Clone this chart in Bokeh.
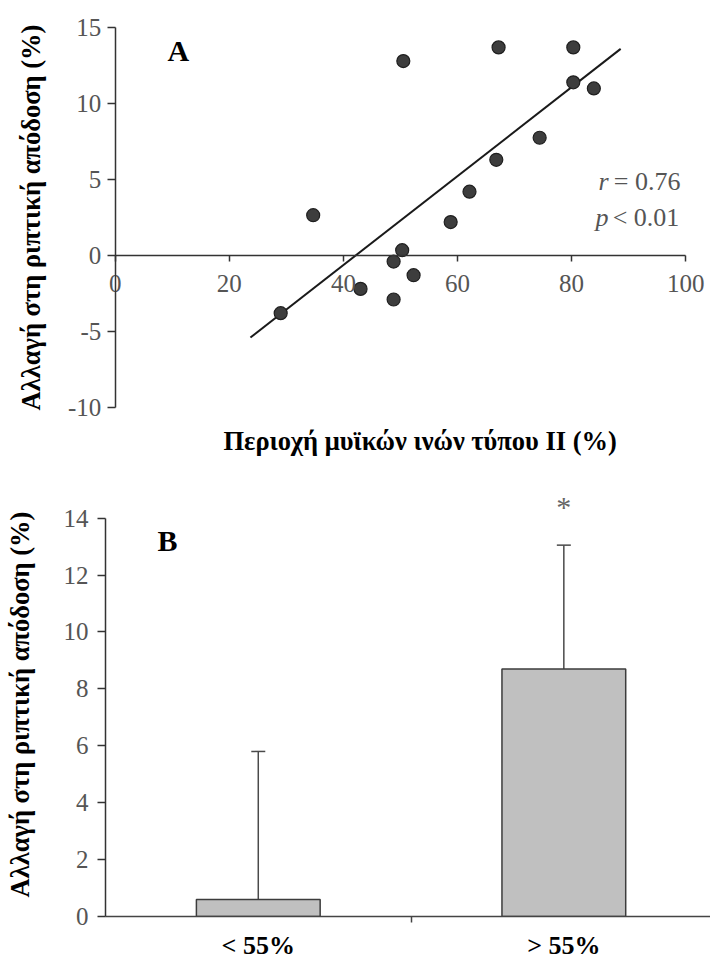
from bokeh.plotting import figure
from bokeh.layouts import column
from bokeh.models import (Range1d, LinearAxis, FixedTicker, Title, Whisker,
                          TeeHead, ColumnDataSource)
from bokeh.core.properties import value
from bokeh.embed import file_html
from bokeh.resources import INLINE

# --- Panel A: type II fibre area vs change in throwing performance ---
fibre_area = [29.0, 34.7, 43.0, 48.8, 48.8, 50.3, 50.5, 52.3,
              58.8, 62.1, 66.8, 67.2, 74.4, 80.3, 80.3, 83.9]
perf_change = [-3.8, 2.65, -2.2, -0.4, -2.9, 0.35, 12.8, -1.3,
               2.2, 4.2, 6.3, 13.7, 7.75, 13.7, 11.4, 11.0]
fit_x = [23.7, 88.6]
fit_y = [-5.4, 13.6]
x_ticks_a = [0, 20, 40, 60, 80, 100]
y_ticks_a = [-10, -5, 0, 5, 10, 15]

# --- Panel B: mean change by fibre-area group ---
groups = ["< 55%", "> 55%"]
group_mean = [0.6, 8.7]
group_upper = [5.8, 13.05]
y_ticks_b = [0, 2, 4, 6, 8, 10, 12, 14]

SERIF = "Liberation Serif"
TICK_COL = "#555555"
AXIS_COL = "#333333"
Y_TITLE = "Αλλαγή στη ριπτική απόδοση (%)"
TICK_SIZE = "25px"
TITLE_SIZE = "26.5px"


def style_axis(ax, ticks):
    ax.ticker = FixedTicker(ticks=ticks)
    ax.axis_line_color = AXIS_COL
    ax.axis_line_width = 1.5
    ax.major_tick_line_color = AXIS_COL
    ax.major_tick_line_width = 1.5
    ax.major_tick_in = 0
    ax.minor_tick_line_color = None
    ax.major_label_text_font = SERIF
    ax.major_label_text_font_size = TICK_SIZE
    ax.major_label_text_color = TICK_COL
    # plain hyphen for negatives
    ax.major_label_overrides = {t: str(t) for t in ticks}


# ---------------- Panel A ----------------
pa = figure(width=710, height=480, output_backend="svg", toolbar_location=None,
            x_range=Range1d(-11, 104), y_range=Range1d(-10.8, 15.8),
            x_axis_location=None, y_axis_location=None, frame_align=False,
            min_border_left=52, min_border_right=2,
            min_border_top=15, min_border_bottom=61)
pa.grid.visible = False
pa.outline_line_color = None

# both axes cross at the origin
ya = LinearAxis(fixed_location=0, bounds=(-10, 15))
style_axis(ya, y_ticks_a)
ya.major_tick_out = 8
ya.major_label_standoff = 6
pa.add_layout(ya, "left")

xa = LinearAxis(fixed_location=0, bounds=(0, 100))
style_axis(xa, x_ticks_a)
xa.major_tick_out = 6
xa.major_label_standoff = 14
pa.add_layout(xa, "below")

pa.add_layout(Title(text="Περιοχή μυϊκών ινών τύπου II (%)", align="left",
                    offset=171, standoff=8, text_font=SERIF,
                    text_font_size=TITLE_SIZE, text_font_style="bold",
                    text_color="black"), "below")
pa.add_layout(Title(text=Y_TITLE, align="center", standoff=14,
                    text_font=SERIF, text_font_size=TITLE_SIZE,
                    text_font_style="bold", text_color="black"), "left")

pa.line(fit_x, fit_y, line_color="#1a1a1a", line_width=2)
pa.scatter(fibre_area, perf_change, size=13, fill_color="#3d3d3d",
           line_color="#1f1f1f", line_width=1.2)

pa.text(x=[11.05], y=[13.5], text=["A"], text_font=value(SERIF),
        text_font_size="30px", text_font_style="bold", text_color="black",
        text_align="center", text_baseline="middle")

pa.text(x=[84.7, 84.2], y=[4.9, 2.5], text=["r", "p"], text_font=value(SERIF),
        text_font_size="26px", text_font_style="italic", text_color=TICK_COL,
        text_align="left", text_baseline="middle")
pa.text(x=[87.4, 87.2], y=[4.9, 2.5], text=["= 0.76", "< 0.01"],
        text_font=value(SERIF), text_font_size="26px", text_color=TICK_COL,
        text_align="left", text_baseline="middle")

# ---------------- Panel B ----------------
pb = figure(width=710, height=482, output_backend="svg", toolbar_location=None,
            x_range=Range1d(0, 1.98), y_range=Range1d(0, 14.9),
            frame_align=False,
            min_border_left=105, min_border_right=0,
            min_border_top=12, min_border_bottom=46)
pb.grid.visible = False
pb.outline_line_color = None

yb = pb.yaxis[0]
style_axis(yb, y_ticks_b)
yb.bounds = (0, 14)
yb.major_tick_out = 8
yb.major_label_standoff = 9
yb.axis_label = Y_TITLE
yb.axis_label_text_font = SERIF
yb.axis_label_text_font_size = TITLE_SIZE
yb.axis_label_text_font_style = "bold"
yb.axis_label_text_color = "black"
yb.axis_label_standoff = 26

xpos = [i + 0.5 for i in range(len(groups))]
seps = [float(i) for i in range(1, len(groups))]
xb = pb.xaxis[0]
xb.ticker = FixedTicker(ticks=xpos, minor_ticks=seps)
xb.major_label_overrides = {x: g for x, g in zip(xpos, groups)}
xb.axis_line_color = "#444444"
xb.axis_line_width = 1.5
xb.major_tick_line_color = None
xb.major_tick_out = 0
xb.minor_tick_line_color = "#444444"
xb.minor_tick_line_width = 1.5
xb.minor_tick_out = 6
xb.minor_tick_in = 0
xb.major_label_text_font = SERIF
xb.major_label_text_font_size = "26px"
xb.major_label_text_font_style = "bold"
xb.major_label_text_color = "black"
xb.major_label_standoff = 8

src = ColumnDataSource(dict(x=xpos, top=group_mean, upper=group_upper))
pb.vbar(x="x", top="top", width=0.405, source=src, fill_color="#c0c0c0",
        line_color="#3c3c3c", line_width=1.5)
pb.add_layout(Whisker(source=src, base="x", lower="top", upper="upper",
                      line_color="#4a4a4a", line_width=1.5, lower_head=None,
                      upper_head=TeeHead(size=14, line_color="#4a4a4a",
                                         line_width=1.5)))

pb.text(x=[xpos[1]], y=[14.4], text=["*"], text_font=value(SERIF),
        text_font_size="30px", text_color="#666666", text_align="center",
        text_baseline="middle")
pb.text(x=[0.203], y=[13.2], text=["B"], text_font=value(SERIF),
        text_font_size="30px", text_font_style="bold", text_color="black",
        text_align="center", text_baseline="middle")

layout = column(pa, pb, spacing=0)
open("out.html", "w").write(file_html(layout, INLINE))
